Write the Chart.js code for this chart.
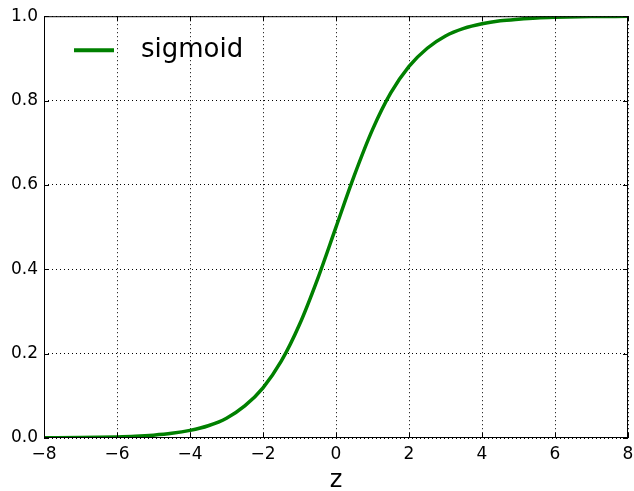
<!DOCTYPE html>
<html>
<head>
<meta charset="utf-8">
<script src="https://cdn.jsdelivr.net/npm/chart.js@4.4.1/dist/chart.umd.min.js"></script>
<style>
  html, body { margin: 0; padding: 0; background: #fff; }
  #wrap { width: 634px; height: 491px; }
</style>
</head>
<body>
<div id="wrap"><canvas id="sigmoidChart"></canvas></div>
<script>
// values
var zValues = [-8, -7, -6, -5.5, -5, -4.5, -4, -3.5, -3, -2.5, -2, -1.5, -1, -0.5, 0, 0.5, 1, 1.5, 2, 2.5, 3, 3.5, 4, 4.5, 5, 5.5, 6, 7, 8]
var sigmoidValues = [0.0003, 0.0009, 0.0025, 0.004, 0.0067, 0.011, 0.018, 0.029, 0.047, 0.076, 0.119, 0.182, 0.269, 0.378, 0.5,
  0.622, 0.731, 0.818, 0.881, 0.924, 0.953, 0.971, 0.982, 0.989, 0.993, 0.996, 0.9975, 0.9991, 0.9997]
var xTicks = [-8, -6, -4, -2, 0, 2, 4, 6, 8]
var yTicks = [0.0, 0.2, 0.4, 0.6, 0.8, 1.0]
var seriesLabel = 'sigmoid'
var lineColor = 'rgb(0,128,0)'

var points = zValues.map(function (z, i) { return { x: z, y: sigmoidValues[i] } })

function fmtMinus(v, digits) {
  var s = Math.abs(v).toFixed(digits)
  return v < 0 ? '\u2212' + s : s
}

// frame, inward ticks and legend inside the axes
var framePlugin = {
  id: 'frame',
  afterDatasetsDraw: function (chart) {
    var ctx = chart.ctx, a = chart.chartArea
    var xs = chart.scales.x, ys = chart.scales.y
    ctx.save()
    ctx.strokeStyle = '#000'
    ctx.lineWidth = 1
    ctx.strokeRect(a.left + 0.5, a.top + 0.5, a.right - a.left - 1, a.bottom - a.top - 1)
    ctx.beginPath()
    xTicks.forEach(function (t) {
      var px = Math.round(xs.getPixelForValue(t)) + 0.5
      ctx.moveTo(px, a.bottom); ctx.lineTo(px, a.bottom - 5)
      ctx.moveTo(px, a.top); ctx.lineTo(px, a.top + 5)
    })
    yTicks.forEach(function (t) {
      var py = Math.round(ys.getPixelForValue(t)) + 0.5
      ctx.moveTo(a.left, py); ctx.lineTo(a.left + 5, py)
      ctx.moveTo(a.right, py); ctx.lineTo(a.right - 5, py)
    })
    ctx.stroke()

    // legend
    var ds = chart.data.datasets[0]
    ctx.strokeStyle = ds.borderColor
    ctx.lineWidth = 4
    ctx.beginPath()
    ctx.moveTo(a.left + 30, a.top + 34)
    ctx.lineTo(a.left + 70, a.top + 34)
    ctx.stroke()
    ctx.fillStyle = '#000'
    ctx.font = '26px "DejaVu Sans"'
    ctx.textBaseline = 'middle'
    ctx.fillText(ds.label, a.left + 97, a.top + 34)
    ctx.restore()
  }
}

var chart = new Chart(document.getElementById('sigmoidChart'), {
  type: 'line',
  data: {
    datasets: [{
      label: seriesLabel,
      data: points,
      borderColor: lineColor,
      borderWidth: 3.5,
      pointRadius: 0,
      fill: false,
      cubicInterpolationMode: 'monotone'
    }]
  },
  options: {
    responsive: true,
    maintainAspectRatio: false,
    animation: false,
    layout: { padding: { top: 16, right: 6, left: 0, bottom: 0 } },
    plugins: { legend: { display: false }, tooltip: { enabled: false } },
    scales: {
      x: {
        type: 'linear',
        min: -8, max: 8,
        afterBuildTicks: function (axis) { axis.ticks = xTicks.map(function (v) { return { value: v } }) },
        afterFit: function (axis) { axis.height = 53; axis.paddingRight = 0; axis.paddingLeft = 0 },
        grid: { color: '#000', lineWidth: 1, drawTicks: false },
        border: { display: false, dash: [1, 3] },
        ticks: {
          color: '#000', padding: 6, maxRotation: 0,
          font: { family: 'DejaVu Sans', size: 17 },
          callback: function (v) { return fmtMinus(v, 0) }
        },
        title: { display: true, text: 'z', color: '#000', font: { family: 'DejaVu Sans', size: 24 }, padding: { top: 0, bottom: -4 } }
      },
      y: {
        min: 0, max: 1,
        afterBuildTicks: function (axis) { axis.ticks = yTicks.map(function (v) { return { value: v } }) },
        afterFit: function (axis) { axis.width = 44 },
        grid: { color: '#000', lineWidth: 1, drawTicks: false },
        border: { display: false, dash: [1, 3] },
        ticks: {
          color: '#000', padding: 6,
          font: { family: 'DejaVu Sans', size: 17 },
          callback: function (v) { return fmtMinus(v, 1) }
        }
      }
    }
  },
  plugins: [framePlugin]
})
</script>
</body>
</html>
